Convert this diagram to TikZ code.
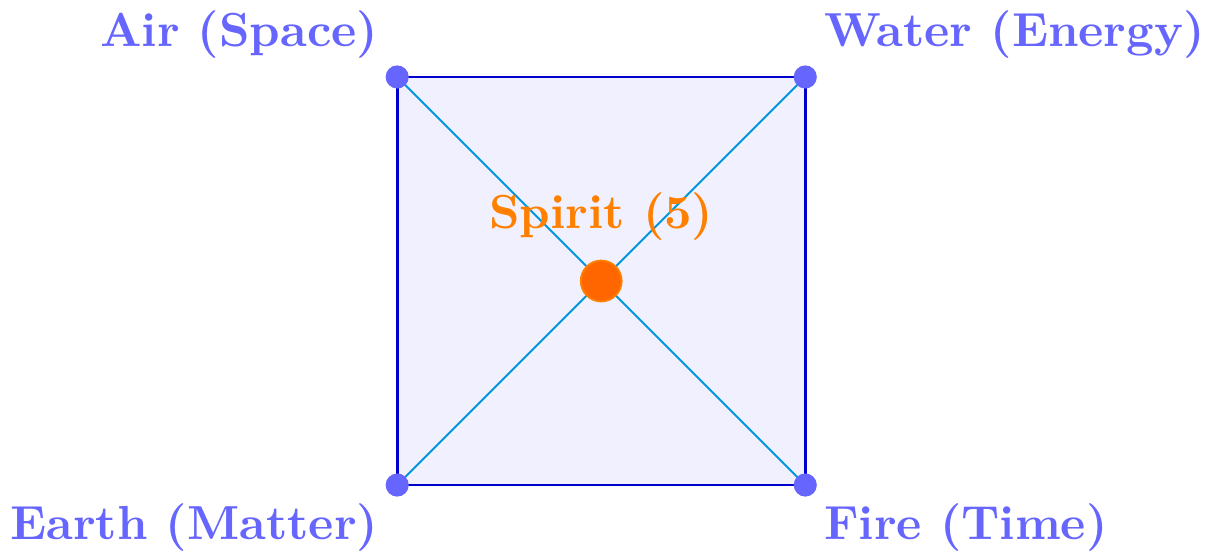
\documentclass[tikz,border=0pt]{standalone}
\usepackage{amsmath}
\usepackage{xcolor}
\usepackage{tikz}
\usetikzlibrary{positioning}

\definecolor{elemblue}{RGB}{102,102,255}
\definecolor{edgeblue}{RGB}{0,0,204}
\definecolor{diagcyan}{RGB}{0,150,220}
\definecolor{spiritorange}{RGB}{255,102,0}

\begin{document}
\begin{tikzpicture}[
      corner/.style={circle, fill=elemblue, inner sep=0pt, minimum size=0.17cm},
      centre/.style={circle, fill=spiritorange, draw=orange, inner sep=0pt, minimum size=0.3cm},
      elemlabel/.style={text=elemblue, font=\bfseries, label distance=-2pt},
      spiritlabel/.style={text=orange, font=\bfseries, label distance=0.5pt}
    ]
      \useasboundingbox (-2.92,-0.507) rectangle (5.99,3.566);
      \draw[edgeblue, semithick, fill=blue!6] (0,0) rectangle (3,3);

      \coordinate (ll) at (0,0);
      \coordinate (lr) at (3,0);
      \coordinate (ul) at (0,3);
      \coordinate (ur) at (3,3);
      \draw[diagcyan] (ll) -- (ur);
      \draw[diagcyan] (ul) -- (lr);

      \node[corner, label={[elemlabel]above left:Air (Space)}] (air) at (ul) {};
      \node[corner, label={[elemlabel]above right:Water (Energy)}] (water) at (ur) {};
      \node[corner, label={[elemlabel]below left:Earth (Matter)}] (earth) at (ll) {};
      \node[corner, label={[elemlabel]below right:Fire (Time)}] (fire) at (lr) {};

      \node[centre, label={[spiritlabel]above:Spirit (5)}] (spirit) at (1.5,1.5) {};
    \end{tikzpicture}
\end{document}
